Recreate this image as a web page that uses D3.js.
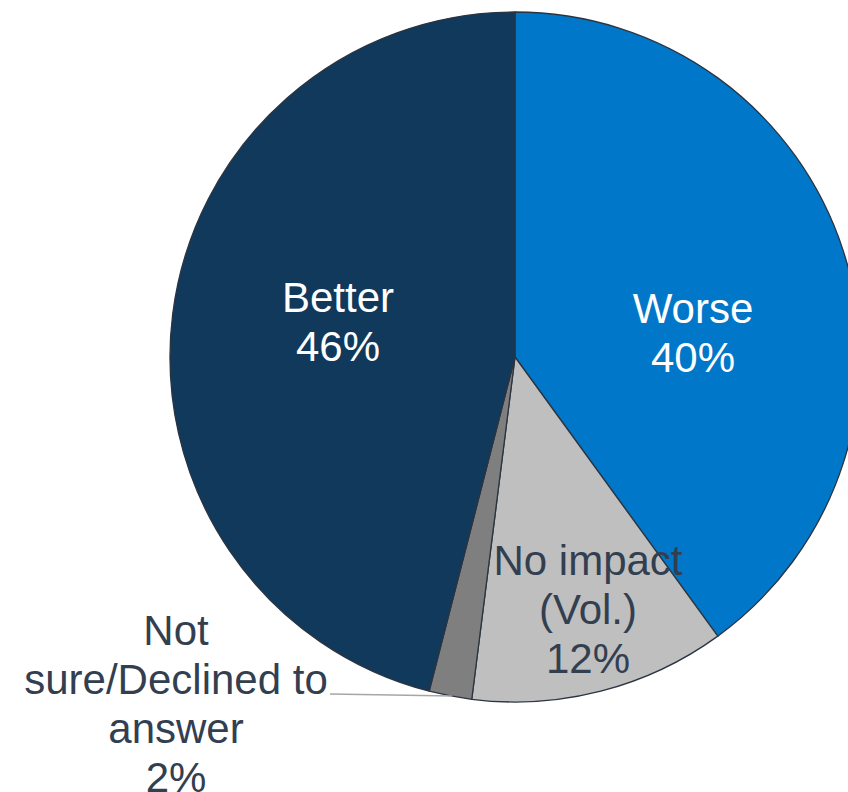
<!DOCTYPE html>
<html><head><meta charset="utf-8">
<script src="https://cdn.jsdelivr.net/npm/d3@7"></script>
<style>html,body{margin:0;padding:0;background:#fff;overflow:hidden}</style>
</head><body>
<svg id="chart" width="848" height="792"></svg>
<script>
const categories = ["Worse", "No impact (Vol.)", "Not sure/Declined to answer", "Better"];
const values = [40, 12, 2, 46];
const labelLines = [["Worse", "40%"], ["No impact", "(Vol.)", "12%"], ["Not", "sure/Declined to", "answer", "2%"], ["Better", "46%"]];

const colors = ["#0077C8", "#BFBFBF", "#7F7F7F", "#10395C"];
const textColors = ["#ffffff", "#333F50", "#333F50", "#ffffff"];
// first-baseline anchor for each label
const labelAnchor = [[693, 323], [588, 575], [176, 645], [338, 312]];
const lineH = 49;

const svg = d3.select("#chart");
const cx = 515, cy = 357, R = 345;
const g = svg.append("g").attr("transform", `translate(${cx},${cy})`);

const data = categories.map((c, i) => ({cat: c, value: values[i], i}));
const pie = d3.pie().sort(null).value(d => d.value).startAngle(0).endAngle(2 * Math.PI);
const arcs = pie(data);
const arc = d3.arc().innerRadius(0).outerRadius(R);

g.selectAll("path").data(arcs).join("path")
  .attr("d", arc)
  .attr("fill", d => colors[d.data.i])
  .attr("stroke", "#2B3440")
  .attr("stroke-width", 1.3)
  .attr("stroke-linejoin", "round");

// leader line for small slice
const small = arcs[2];
const mid = (small.startAngle + small.endAngle) / 2;
const ex = cx + R * Math.sin(mid) + 2, ey = cy - R * Math.cos(mid);
svg.append("line")
  .attr("x1", 330).attr("y1", 694)
  .attr("x2", ex).attr("y2", ey)
  .attr("stroke", "#A6A6A6").attr("stroke-width", 1.5);

labelLines.forEach((lines, i) => {
  const t = svg.append("text")
    .attr("text-anchor", "middle")
    .attr("font-family", "Liberation Sans, Arial, sans-serif")
    .attr("font-size", 42)
    .attr("fill", textColors[i]);
  lines.forEach((ln, k) => {
    t.append("tspan").attr("x", labelAnchor[i][0]).attr("y", labelAnchor[i][1] + k * lineH).text(ln);
  });
});
</script>
</body></html>
